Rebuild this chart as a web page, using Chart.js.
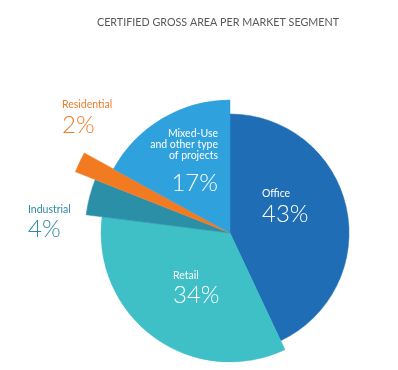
<!DOCTYPE html>
<html>
<head>
<meta charset="utf-8">
<script src="https://cdn.jsdelivr.net/npm/chart.js@4/dist/chart.umd.min.js"></script>
<style>
  html, body { margin: 0; padding: 0; background: #fff; }
  #wrap { width: 398px; height: 370px; }
</style>
</head>
<body>
<div id="wrap"><canvas id="areaChart" width="398" height="370"></canvas></div>
<script>
const chartTitle = 'CERTIFIED GROSS AREA PER MARKET SEGMENT';
const segments = ['Office', 'Retail', 'Industrial', 'Residential', 'Mixed-Use and other type of projects'];
const shares = [43, 34, 4, 2, 17];

// styling only
const sliceColors = ['#1f6db5', '#3fbfc6', '#2a8fa7', '#f27b22', '#2fa1dc'];
const sliceReach = [0.895, 0.97, 1.09, 1.25, 1.0];
const labelLayout = [
  { dx: 32, dy: -36, gap: 25, align: 'left', color: '#ffffff', lines: ['Office'] },
  { dx: -57, dy: 46, gap: 24, align: 'left', color: '#ffffff', lines: ['Retail'] },
  { dx: -202, dy: -20, gap: 24, align: 'left', color: '#2d8aa3', lines: ['Industrial'] },
  { dx: -168, dy: -125, gap: 25, align: 'left', color: '#ef7d2c', lines: ['Residential'] },
  { dx: -12, dy: -96, gap: 32, align: 'right', color: '#ffffff', lines: ['Mixed-Use', 'and other type', 'of projects'] }
];

const uneven = {
  id: 'uneven',
  beforeDatasetsDraw(chart) {
    const meta = chart.getDatasetMeta(0);
    const base = meta.controller.outerRadius;
    meta.data.forEach((arc, i) => { arc.outerRadius = base * sliceReach[i]; });
  },
  afterDraw(chart) {
    const ctx = chart.ctx;
    const meta = chart.getDatasetMeta(0);
    const cx = meta.data[0].x, cy = meta.data[0].y;
    ctx.save();
    // title, squeezed a little to the width of the original
    ctx.fillStyle = '#595959';
    ctx.font = '12px Lato';
    ctx.textAlign = 'center';
    ctx.textBaseline = 'alphabetic';
    const w = ctx.measureText(chartTitle).width;
    ctx.save();
    ctx.translate(218, 26);
    ctx.scale(Math.min(1, 242 / w), 1);
    ctx.fillText(chartTitle, 0, 0);
    ctx.restore();
    shares.forEach((v, i) => {
      const l = labelLayout[i];
      ctx.fillStyle = l.color;
      ctx.textAlign = l.align;
      ctx.font = '10.5px Lato';
      l.lines.forEach((t, k) => ctx.fillText(t, cx + l.dx, cy + l.dy + k * 11));
      ctx.font = '300 24px Lato';
      ctx.fillText(v + '%', cx + l.dx, cy + l.dy + (l.lines.length - 1) * 11 + l.gap);
    });
    ctx.restore();
  }
};

new Chart(document.getElementById('areaChart').getContext('2d'), {
  type: 'pie',
  data: {
    labels: segments,
    datasets: [{
      data: shares,
      backgroundColor: sliceColors,
      borderColor: sliceColors,
      borderWidth: 0.5,
      radius: 133
    }]
  },
  options: {
    responsive: false,
    animation: false,
    layout: { padding: { left: 62, right: 0, top: 96, bottom: 0 } },
    plugins: {
      legend: { display: false },
      tooltip: { enabled: false },
      title: { display: false }
    }
  },
  plugins: [uneven]
});
</script>
</body>
</html>
